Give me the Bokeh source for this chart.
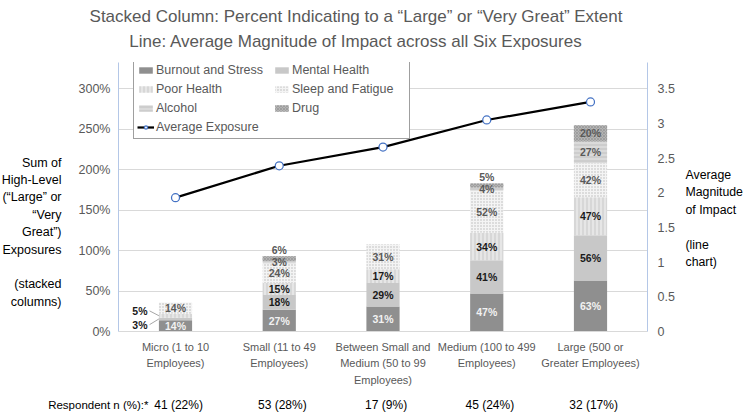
import numpy as np
from bokeh.plotting import figure
from bokeh.layouts import column, row
from bokeh.models import (ColumnDataSource, Range1d, LinearAxis, FixedTicker,
                          CustomJSTickFormatter, Legend, LegendItem)
from bokeh.core.properties import value
from bokeh.embed import file_html
from bokeh.resources import INLINE

# ---------------- data ----------------
categories = ["Micro (1 to 10\nEmployees)",
              "Small (11 to 49\nEmployees)",
              "Between Small and\nMedium (50 to 99\nEmployees)",
              "Medium (100 to 499\nEmployees)",
              "Large (500 or\nGreater Employees)"]
respondents = ["41 (22%)", "53 (28%)", "17 (9%)", "45 (24%)", "32 (17%)"]
series_names = ["Burnout and Stress", "Mental Health", "Poor Health",
                "Sleep and Fatigue", "Alcohol", "Drug"]
burnout = [14, 27, 31, 47, 63]
mental = [3, 18, 29, 41, 56]
poor = [5, 15, 17, 34, 47]
sleep = [14, 24, 31, 52, 42]
alcohol = [0, 3, 0, 4, 27]
drug = [0, 6, 0, 5, 20]
average_exposure = [1.93, 2.39, 2.66, 3.05, 3.31]
left_ticks = [0, 50, 100, 150, 200, 250, 300]
right_ticks = [0, 0.5, 1, 1.5, 2, 2.5, 3, 3.5]
title_lines = ["Stacked Column: Percent Indicating to a \u201cLarge\u201d or \u201cVery Great\u201d Extent",
               "Line: Average Magnitude of Impact across all Six Exposures"]
left_title_lines = ["Sum of", "High-Level", "(\u201cLarge\u201d or", "\u201cVery", "Great\u201d)",
                    "Exposures", "", "(stacked", "columns)"]
right_title_lines = ["Average", "Magnitude", "of Impact", "", "(line", "chart)"]
respondent_caption = "Respondent n (%):*"

# ---------------- style / layout ----------------
FONT = "Liberation Sans"
GRAY = "#595959"
fills = ["#8f8f8f", "#c8c8c8", "#e6e6e6", "#f4f4f4", "#dadada", "#bdbdbd"]
hatches = [None, None, "|", ".", "-", "x"]
hatch_colors = ["#ffffff", "#ffffff", "#cacaca", "#b8b8b8", "#c2c2c2", "#9d9d9d"]
hatch_scales = [6, 6, 4, 3, 4, 3]
label_colors = ["#f2f2f2", "#1a1a1a", "#1a1a1a", "#595959", "#595959", "#595959"]

TOTAL_W, TOTAL_H = 744, 413
TITLE_H = 62
LEFT_W, MAIN_BL, FRAME_W, MAIN_BR = 68, 50, 529, 30
RIGHT_W = TOTAL_W - LEFT_W - MAIN_BL - FRAME_W - MAIN_BR
FRAME_H, MAIN_BB = 271, 56
MID_H = FRAME_H + MAIN_BB
BOTTOM_H = TOTAL_H - TITLE_H - MID_H
XS, XE = -0.0494, 5.0494
PPU = FRAME_W / (XE - XS)
Y_TOP = FRAME_H / 0.815
Y2_TOP = FRAME_H / 69.86


def text_fig(w, h, x_range=None, y_span=None):
    f = figure(width=w, height=h, output_backend="svg", toolbar_location=None,
               x_range=x_range if x_range is not None else Range1d(0, w),
               y_range=Range1d(0, y_span if y_span is not None else h),
               x_axis_type=None, y_axis_type=None, min_border=0)
    f.title = None
    f.outline_line_color = None
    f.background_fill_color = "white"
    f.border_fill_color = "white"
    return f


def style_axis(ax, size):
    ax.major_tick_line_color = None
    ax.minor_tick_line_color = None
    ax.major_tick_out = 0
    ax.major_tick_in = 0
    ax.minor_tick_out = 0
    ax.minor_tick_in = 0
    ax.major_label_text_color = GRAY
    ax.major_label_text_font = FONT
    ax.major_label_text_font_size = size


def stacked_lines(fig, lines, x, first_center, pitch, align, size):
    # side panels share the main plot's frame rows (top = TITLE_H, height = FRAME_H)
    ys, ts = [], []
    for i, t in enumerate(lines):
        if t:
            ys.append(FRAME_H - (first_center + i * pitch - TITLE_H))
            ts.append(t)
    fig.text(x=[x] * len(ts), y=ys, text=ts, text_align=align, text_baseline="middle",
             text_font=value(FONT), text_font_size=size, text_color="black")


n = len(categories)
xs = np.arange(n) + 0.5

p = figure(width=MAIN_BL + FRAME_W + MAIN_BR, height=MID_H, output_backend="svg",
           toolbar_location=None, x_range=Range1d(XS, XE), y_range=Range1d(0, Y_TOP),
           min_border_left=MAIN_BL, min_border_right=MAIN_BR, min_border_top=0,
           min_border_bottom=MAIN_BB)
p.title = None
p.outline_line_color = None
p.background_fill_color = "white"
p.border_fill_color = "white"
p.extra_y_ranges = {"avg": Range1d(0, Y2_TOP)}

# axes
p.xaxis.ticker = FixedTicker(ticks=list(xs))
p.xaxis.formatter = CustomJSTickFormatter(args=dict(labels=categories),
    code="const i = Math.round(tick - 0.5); return (i >= 0 && i < labels.length) ? labels[i] : '';")
p.xaxis.axis_line_color = "#d9d9d9"
style_axis(p.xaxis[0], "11px")
p.xaxis.major_label_text_line_height = 1.4
p.xaxis.major_label_standoff = 9

p.yaxis.ticker = FixedTicker(ticks=left_ticks)
p.yaxis.formatter = CustomJSTickFormatter(code="return tick.toFixed(0) + '%';")
p.yaxis.axis_line_color = "#b4c7e7"
style_axis(p.yaxis[0], "12.5px")
p.yaxis.major_label_standoff = 8

raxis = LinearAxis(y_range_name="avg", ticker=FixedTicker(ticks=right_ticks),
                   formatter=CustomJSTickFormatter(code="return String(tick);"))
raxis.axis_line_color = "#b4c7e7"
style_axis(raxis, "12.5px")
raxis.major_label_standoff = 10
p.add_layout(raxis, "right")

p.xgrid.visible = False
p.ygrid.grid_line_color = "#d9d9d9"
p.ygrid.grid_line_width = 1

# stacked bars
series = [burnout, mental, poor, sleep, alcohol, drug]
bar_w = 0.32
bottom = np.zeros(n)
bar_renderers = []
lab_x, lab_y, lab_t, lab_c = [], [], [], []
top_x, top_y, top_t, top_c = [], [], [], []
co_x, co_y, co_t = [], [], []
ld_x0, ld_y0, ld_x1, ld_y1 = [], [], [], []
callout_shift = {1: -7.0, 2: 6.0}
for k, (name, vals) in enumerate(zip(series_names, series)):
    v = np.array(vals, dtype=float)
    src = ColumnDataSource(dict(x=xs, bottom=bottom.copy(), top=bottom + v))
    r = p.vbar(x="x", bottom="bottom", top="top", width=bar_w, source=src,
               fill_color=fills[k], line_color=None, hatch_pattern=hatches[k],
               hatch_color=hatch_colors[k], hatch_scale=hatch_scales[k],
               hatch_weight=1.1)
    bar_renderers.append(r)
    for i in range(n):
        if v[i] <= 0:
            continue
        mid = bottom[i] + v[i] / 2
        txt = "%d%%" % v[i]
        if k == len(series) - 1 and v[i] < 8:
            top_x.append(xs[i]); top_y.append(bottom[i] + v[i]); top_t.append(txt); top_c.append(label_colors[k])
        elif v[i] < 6 and k in callout_shift:
            cy = mid + callout_shift[k]
            co_x.append(xs[i] - 0.27); co_y.append(cy); co_t.append(txt)
            ld_x0.append(xs[i] - 0.25); ld_y0.append(cy)
            ld_x1.append(xs[i] - bar_w / 2); ld_y1.append(mid)
        else:
            lab_x.append(xs[i]); lab_y.append(mid); lab_t.append(txt); lab_c.append(label_colors[k])
    bottom = bottom + v

LBL = dict(text_font=value(FONT), text_font_size="10.5px", text_font_style="bold")
p.text(x="x", y="y", text="t", text_color="c",
       source=ColumnDataSource(dict(x=lab_x, y=lab_y, t=lab_t, c=lab_c)),
       text_align="center", text_baseline="middle", **LBL)
p.text(x="x", y="y", text="t", text_color="c",
       source=ColumnDataSource(dict(x=top_x, y=top_y, t=top_t, c=top_c)),
       text_align="center", text_baseline="bottom", **LBL)
p.segment(x0="x0", y0="y0", x1="x1", y1="y1", line_color="#a6a6a6", line_width=1,
          source=ColumnDataSource(dict(x0=ld_x0, y0=ld_y0, x1=ld_x1, y1=ld_y1)))
p.text(x="x", y="y", text="t", text_color="#1a1a1a",
       source=ColumnDataSource(dict(x=co_x, y=co_y, t=co_t)),
       text_align="right", text_baseline="middle", **LBL)

# line
lsrc = ColumnDataSource(dict(x=xs, y=average_exposure))
lr = p.line(x="x", y="y", source=lsrc, y_range_name="avg", line_color="black", line_width=2.25)
sr = p.scatter(x="x", y="y", source=lsrc, y_range_name="avg", marker="circle", size=8,
               fill_color="white", line_color="#4472c4", line_width=1.25)

# legend
items = [LegendItem(label=nm, renderers=[r]) for nm, r in zip(series_names, bar_renderers)]
items.append(LegendItem(label="Average Exposure", renderers=[lr, sr]))
legend = Legend(items=items, location=(15, 192), orientation="horizontal", ncols=2,
                border_line_color="#404040", border_line_width=1,
                background_fill_color="white", background_fill_alpha=1.0,
                label_text_font=FONT, label_text_font_size="12.5px", label_text_color=GRAY,
                glyph_width=17, glyph_height=8, label_standoff=2, label_width=114,
                label_height=16, spacing=3, padding=3, margin=0)
p.add_layout(legend, "center")

# ---------------- text panels ----------------
title_fig = text_fig(TOTAL_W, TITLE_H)
title_fig.text(x=[355.5, 355.5], y=[TITLE_H - 16, TITLE_H - 41], text=title_lines,
               text_align="center", text_baseline="alphabetic", text_font=value(FONT),
               text_font_size="17px", text_color=GRAY)

left_fig = text_fig(LEFT_W, MID_H, y_span=FRAME_H)
stacked_lines(left_fig, left_title_lines, 61, 163, 17.5, "right", "12.5px")

right_fig = text_fig(RIGHT_W, MID_H, y_span=FRAME_H)
stacked_lines(right_fig, right_title_lines, 8, 175, 17.6, "left", "12.3px")

bx0 = XS - (LEFT_W + MAIN_BL) / PPU
bottom_fig = text_fig(TOTAL_W, BOTTOM_H, x_range=Range1d(bx0, bx0 + TOTAL_W / PPU))
bottom_fig.text(x=[XS + 30 / PPU], y=[BOTTOM_H - 15], text=[respondent_caption],
                text_align="right", text_baseline="middle", text_font=value(FONT),
                text_font_size="11.5px", text_color="black")
bottom_fig.text(x=xs + 0.03, y=[BOTTOM_H - 15] * n, text=respondents,
                text_align="center", text_baseline="middle", text_font=value(FONT),
                text_font_size="12px", text_color="black")

layout = column(title_fig, row(left_fig, p, right_fig), bottom_fig)
open("out.html", "w").write(file_html(layout, INLINE))
